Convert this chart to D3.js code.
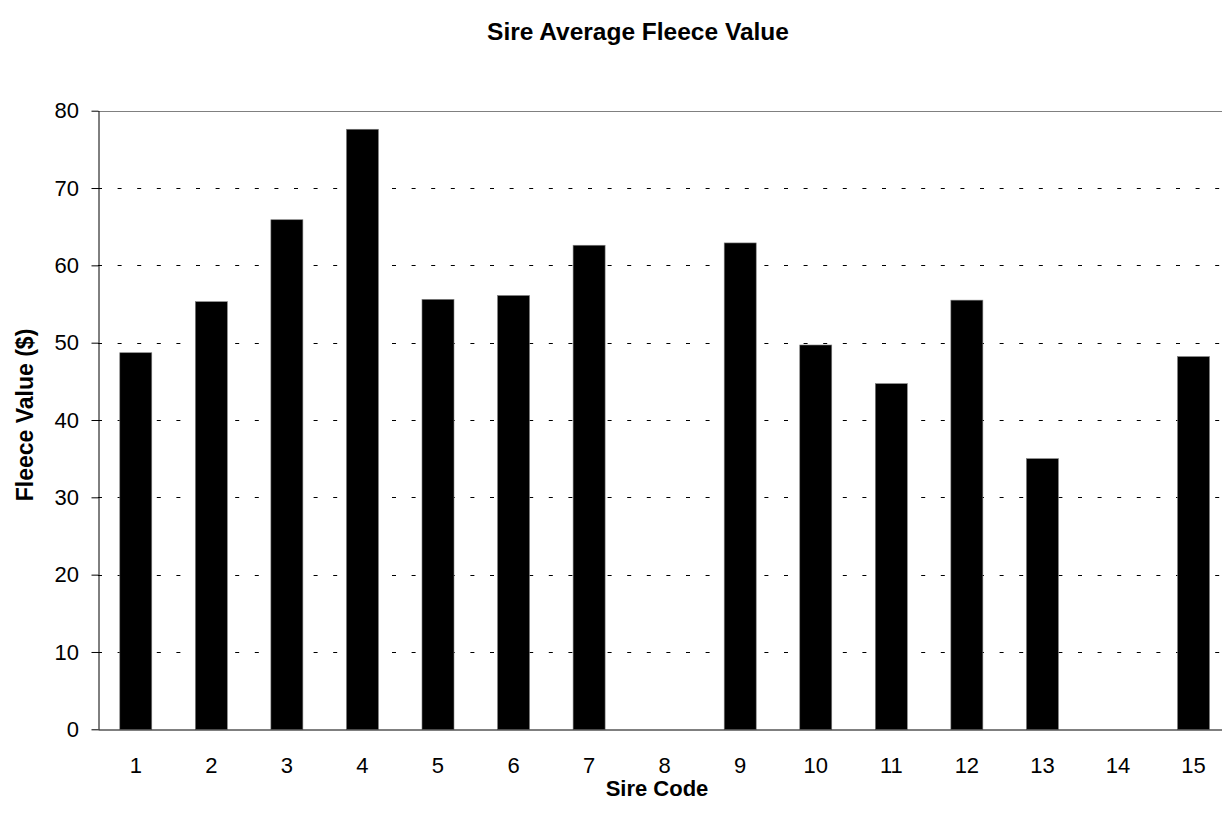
<!DOCTYPE html>
<html>
<head>
<meta charset="utf-8">
<script src="https://cdn.jsdelivr.net/npm/d3@7"></script>
<style>
  html, body { margin: 0; padding: 0; background: #fff; overflow: hidden; }
  svg { display: block; }
  text { font-family: "Liberation Sans", Arial, sans-serif; fill: #000; }
</style>
</head>
<body>
<svg id="chart" width="1222" height="819"></svg>
<script>
const sireCodes = ["1","2","3","4","5","6","7","8","9","10","11","12","13","14","15"];
const fleeceValues = [48.7, 55.3, 65.9, 77.6, 55.6, 56.1, 62.6, null, 62.9, 49.7, 44.7, 55.5, 35.0, null, 48.2];
const yTicks = [0, 10, 20, 30, 40, 50, 60, 70, 80];
const chartTitle = "Sire Average Fleece Value";
const xTitle = "Sire Code";
const yTitle = "Fleece Value ($)";

const data = sireCodes.map((c, i) => ({ code: c, value: fleeceValues[i] }));

const svg = d3.select("#chart");
const plotLeft = 98, plotRight = 1231.3, plotTop = 110.7, plotBottom = 729.3;

const x = d3.scaleBand().domain(sireCodes).range([plotLeft, plotRight])
  .paddingInner(0.5764).paddingOuter(0.2882);
const y = d3.scaleLinear().domain([0, 80]).range([plotBottom, plotTop]);

// gridlines
svg.append("g").selectAll("line")
  .data(yTicks.filter(t => t > 0))
  .join("line")
  .attr("x1", plotLeft).attr("x2", plotRight)
  .attr("y1", d => Math.round(y(d)) + 0.5).attr("y2", d => Math.round(y(d)) + 0.5)
  .attr("stroke", "#000").attr("stroke-width", 1)
  .attr("stroke-dasharray", "4,15.6").attr("stroke-dashoffset", -19.6);

// top border (gray)
svg.append("line")
  .attr("x1", plotLeft).attr("x2", plotRight)
  .attr("y1", Math.round(y(80)) + 0.5).attr("y2", Math.round(y(80)) + 0.5)
  .attr("stroke", "#808080").attr("stroke-width", 1);

// bars
svg.append("g").selectAll("rect")
  .data(data.filter(d => d.value != null))
  .join("rect")
  .attr("x", d => x(d.code))
  .attr("width", x.bandwidth())
  .attr("y", d => y(d.value))
  .attr("height", d => y(0) - y(d.value))
  .attr("fill", "#000")
  .attr("stroke", "#808080").attr("stroke-width", 0.6);

// y axis
const yAxis = d3.axisLeft(y).tickValues(yTicks).tickSize(7).tickPadding(12.5).tickSizeOuter(0);
const gy = svg.append("g").attr("transform", `translate(${plotLeft + 0.5},0)`).call(yAxis);
gy.selectAll("text").style("font-size", "22px").style("font-family", "Liberation Sans, Arial, sans-serif");
gy.select(".domain").attr("stroke", "#000");
gy.selectAll(".tick line").attr("stroke", "#000");

// x axis
const xAxis = d3.axisBottom(x).tickSize(0).tickPadding(28).tickSizeOuter(0);
const gx = svg.append("g").attr("transform", `translate(0,${Math.round(plotBottom) + 0.5})`).call(xAxis);
gx.selectAll("text").style("font-size", "22px").style("font-family", "Liberation Sans, Arial, sans-serif");
gx.select(".domain").attr("stroke", "#000");

// titles
svg.append("text").attr("x", 638).attr("y", 39.5).attr("text-anchor", "middle")
  .style("font-size", "24.5px").style("font-weight", "bold").text(chartTitle);
svg.append("text").attr("x", 657).attr("y", 796).attr("text-anchor", "middle")
  .style("font-size", "22px").style("font-weight", "bold").text(xTitle);
svg.append("text").attr("transform", "translate(33,415) rotate(-90)").attr("text-anchor", "middle")
  .style("font-size", "23px").style("font-weight", "bold").text(yTitle);
</script>
</body>
</html>
